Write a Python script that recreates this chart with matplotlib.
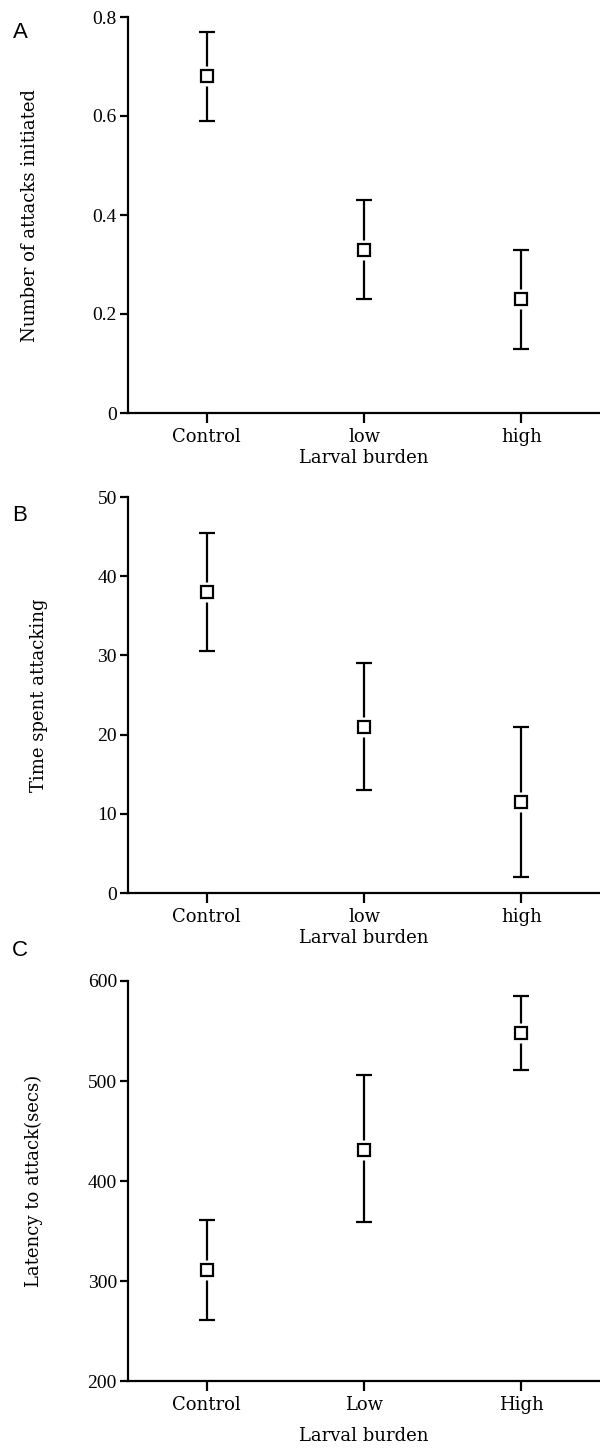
import matplotlib
matplotlib.use("Agg")
import matplotlib.pyplot as plt

# panel A
a_labels = ["Control", "low", "high"]
a_mean = [0.68, 0.33, 0.23]
a_err = [0.09, 0.10, 0.10]

# panel B
b_labels = ["Control", "low", "high"]
b_mean = [38.0, 21.0, 11.5]
b_lo = [30.5, 13.0, 2.0]
b_hi = [45.5, 29.0, 21.0]

# panel C
c_labels = ["Control", "Low", "High"]
c_mean = [311, 431, 548]
c_lo = [261, 359, 511]
c_hi = [361, 506, 585]

SERIF = ["DejaVu Serif"]
NUM = ["Liberation Serif"]


def panel(ax, labels, mean, lo, hi, ylim, yticks, yticklabels, ylabel, ylab_x, xlab_pad):
    x = list(range(len(labels)))
    yerr = [[m - l for m, l in zip(mean, lo)], [h - m for m, h in zip(mean, hi)]]
    ax.errorbar(x, mean, yerr=yerr, fmt="none", ecolor="black", elinewidth=1.6,
                capsize=5.5, capthick=1.6, zorder=2)
    # white halo leaves a small gap between the error line and the square
    ax.plot(x, mean, "s", ms=14, mfc="white", mec="none", zorder=3)
    ax.plot(x, mean, "s", ms=9, mfc="white", mec="black", mew=1.6, zorder=4)

    ax.set_xlim(-0.5, 2.5)
    ax.set_ylim(*ylim)
    ax.set_yticks(yticks)
    ax.set_yticklabels(yticklabels, fontfamily=NUM, fontsize=14)
    ax.set_xticks(x)
    ax.set_xticklabels(labels, fontfamily=SERIF, fontsize=13)
    for s in ("top", "right"):
        ax.spines[s].set_visible(False)
    for s in ("left", "bottom"):
        ax.spines[s].set_linewidth(1.6)
    ax.tick_params(axis="y", direction="out", length=6, width=1.6, pad=2)
    ax.tick_params(axis="x", direction="out", length=7, width=1.6, pad=4)
    ax.set_ylabel(ylabel, fontfamily=SERIF, fontsize=13)
    ax.yaxis.set_label_coords(ylab_x, 0.5)
    ax.set_xlabel("Larval burden", fontfamily=SERIF, fontsize=13, labelpad=xlab_pad)
    return ax


fig = plt.figure(figsize=(6, 14.56), dpi=100)
left, width = 128 / 600, 472 / 600

axA = fig.add_axes([left, 1 - 413 / 1456, width, 396 / 1456])
panel(axA, a_labels, a_mean, [m - e for m, e in zip(a_mean, a_err)],
      [m + e for m, e in zip(a_mean, a_err)], (0, 0.8), [0, 0.2, 0.4, 0.6, 0.8],
      ["0", "0.2", "0.4", "0.6", "0.8"], "Number of attacks initiated", -0.188, 2)

axB = fig.add_axes([left, 1 - 893 / 1456, width, 396 / 1456])
panel(axB, b_labels, b_mean, b_lo, b_hi, (0, 50), [0, 10, 20, 30, 40, 50],
      ["0", "10", "20", "30", "40", "50"], "Time spent attacking", -0.17, 2)

axC = fig.add_axes([left, 1 - 1381 / 1456, width, 400 / 1456])
panel(axC, c_labels, c_mean, c_lo, c_hi, (200, 600), [200, 300, 400, 500, 600],
      ["200", "300", "400", "500", "600"], "Latency to attack(secs)", -0.18, 9)

for letter, ypix in (("A", 33), ("B", 515), ("C", 950)):
    fig.text(20 / 600, 1 - ypix / 1456, letter, fontfamily=["Liberation Sans"],
             fontsize=16, ha="center", va="center")

fig.savefig("out.png", dpi=100)
